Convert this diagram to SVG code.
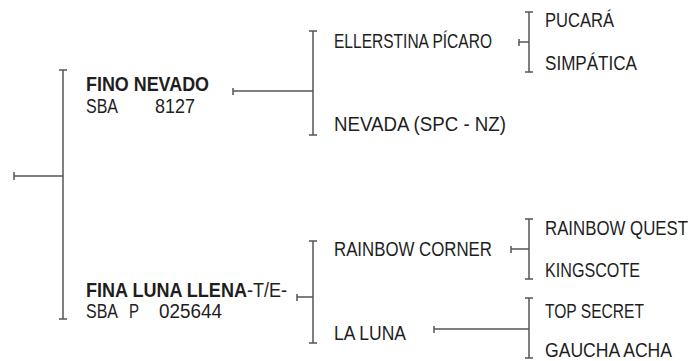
<svg xmlns="http://www.w3.org/2000/svg" width="691" height="361" viewBox="0 0 691 361">
<style>
text{font-family:"Liberation Sans",Arial,sans-serif;font-size:20px;fill:#1e1e1e;}
.b{font-weight:bold;}
.c line{stroke:#555;stroke-width:1.5;fill:none;}
</style>
<rect width="691" height="361" fill="#fff"/>
<g id="connectors" class="c">
<line x1="14" y1="172" x2="14" y2="180"/>
<line x1="14" y1="176" x2="63" y2="176"/>
<line x1="63" y1="70" x2="63" y2="319"/>
<line x1="59" y1="70" x2="67" y2="70"/>
<line x1="59" y1="319" x2="67" y2="319"/>
<line x1="233" y1="88" x2="233" y2="95"/>
<line x1="233" y1="91" x2="313" y2="91"/>
<line x1="313" y1="31" x2="313" y2="135"/>
<line x1="309" y1="31" x2="317" y2="31"/>
<line x1="309" y1="135" x2="317" y2="135"/>
<line x1="519" y1="39" x2="519" y2="46"/>
<line x1="519" y1="42" x2="529" y2="42"/>
<line x1="529" y1="12" x2="529" y2="72"/>
<line x1="525" y1="12" x2="533" y2="12"/>
<line x1="525" y1="72" x2="533" y2="72"/>
<line x1="297" y1="294" x2="297" y2="301"/>
<line x1="297" y1="297" x2="313" y2="297"/>
<line x1="313" y1="241" x2="313" y2="343"/>
<line x1="309" y1="241" x2="317" y2="241"/>
<line x1="309" y1="343" x2="317" y2="343"/>
<line x1="511" y1="246" x2="511" y2="253"/>
<line x1="511" y1="249" x2="529" y2="249"/>
<line x1="529" y1="219" x2="529" y2="279"/>
<line x1="525" y1="219" x2="533" y2="219"/>
<line x1="525" y1="279" x2="533" y2="279"/>
<line x1="434" y1="326" x2="434" y2="333"/>
<line x1="434" y1="329" x2="529" y2="329"/>
<line x1="529" y1="298" x2="529" y2="358"/>
<line x1="525" y1="298" x2="533" y2="298"/>
<line x1="525" y1="358" x2="533" y2="358"/>
</g>
<g id="fino-nevado">
<text class="b" x="86" y="90.5" textLength="123" lengthAdjust="spacingAndGlyphs">FINO NEVADO</text>
<text x="86" y="112.5" textLength="32" lengthAdjust="spacingAndGlyphs">SBA</text>
<text x="155" y="112.5" textLength="40" lengthAdjust="spacingAndGlyphs">8127</text>
</g>
<g id="fina-luna-llena">
<text x="86" y="296.5" textLength="201" lengthAdjust="spacingAndGlyphs"><tspan class="b">FINA LUNA LLENA</tspan>-T/E-</text>
<text x="86" y="318" textLength="32" lengthAdjust="spacingAndGlyphs">SBA</text>
<text x="129" y="318" textLength="10" lengthAdjust="spacingAndGlyphs">P</text>
<text x="159" y="318" textLength="63" lengthAdjust="spacingAndGlyphs">025644</text>
</g>
<g id="ellerstina-picaro"><text x="334" y="48" textLength="158" lengthAdjust="spacingAndGlyphs">ELLERSTINA PÍCARO</text></g>
<g id="nevada"><text x="334" y="131" textLength="172" lengthAdjust="spacingAndGlyphs">NEVADA (SPC - NZ)</text></g>
<g id="pucara"><text x="545" y="27" textLength="69" lengthAdjust="spacingAndGlyphs">PUCARÁ</text></g>
<g id="simpatica"><text x="545" y="70" textLength="92" lengthAdjust="spacingAndGlyphs">SIMPÁTICA</text></g>
<g id="rainbow-corner"><text x="334" y="256" textLength="158" lengthAdjust="spacingAndGlyphs">RAINBOW CORNER</text></g>
<g id="la-luna"><text x="334" y="340" textLength="72" lengthAdjust="spacingAndGlyphs">LA LUNA</text></g>
<g id="rainbow-quest"><text x="545" y="235" textLength="143" lengthAdjust="spacingAndGlyphs">RAINBOW QUEST</text></g>
<g id="kingscote"><text x="545" y="277" textLength="95" lengthAdjust="spacingAndGlyphs">KINGSCOTE</text></g>
<g id="top-secret"><text x="545" y="318" textLength="99" lengthAdjust="spacingAndGlyphs">TOP SECRET</text></g>
<g id="gaucha-acha"><text x="545" y="357" textLength="127" lengthAdjust="spacingAndGlyphs">GAUCHA ACHA</text></g>
</svg>
